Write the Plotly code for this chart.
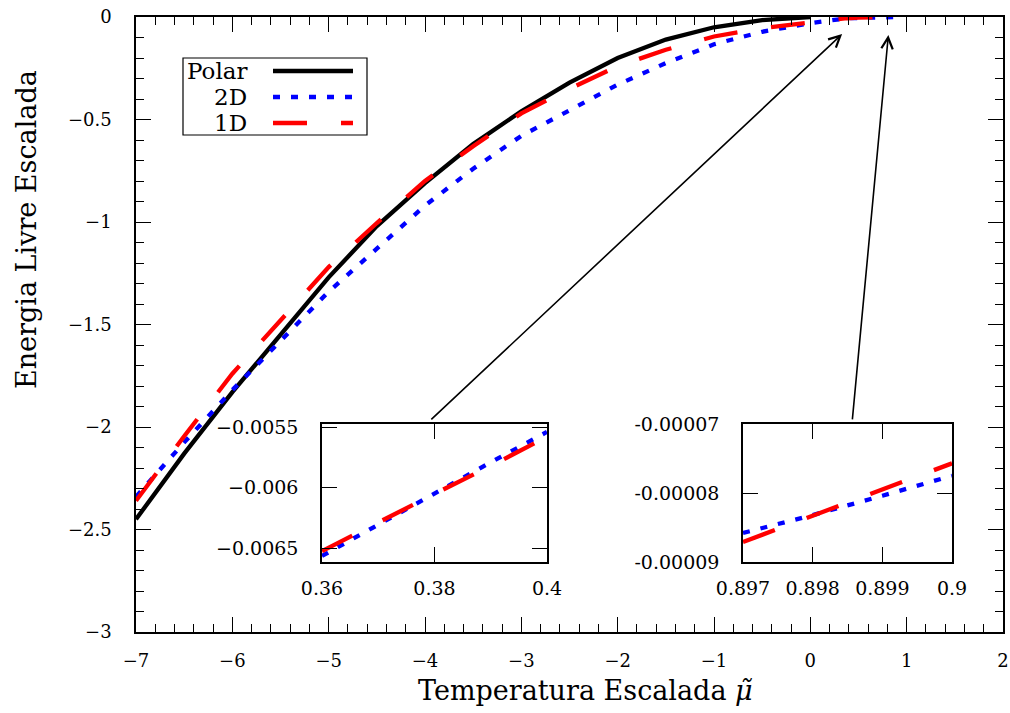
import plotly.graph_objects as go

# ---------------- data ----------------
mu_polar = [-7, -6.5, -6, -5.5, -5, -4.5, -4, -3.5, -3, -2.5, -2, -1.5, -1, -0.5, 0]
f_polar = [-2.45, -2.13, -1.83, -1.55, -1.27, -1.02, -0.81, -0.62, -0.46, -0.32, -0.20, -0.11, -0.05, -0.015, 0.0]

mu_2d = [-7, -6.5, -6, -5.5, -5, -4.5, -4, -3.5, -3, -2.5, -2, -1.5, -1, -0.5, 0, 0.38, 0.5, 0.9]
f_2d = [-2.34, -2.075, -1.82, -1.58, -1.34, -1.13, -0.92, -0.74, -0.58, -0.455, -0.33, -0.225, -0.133, -0.072,
        -0.03, -0.006, -0.0035, -0.00008]

mu_1d = [-7, -6.5, -6, -5.5, -5, -4.5, -4, -3.5, -3, -2.5, -2, -1.5, -1, -0.5, 0, 0.38, 0.5, 0.9]
f_1d = [-2.36, -2.045, -1.74, -1.48, -1.22, -1.005, -0.80, -0.63, -0.47, -0.35, -0.24, -0.16, -0.095, -0.055,
        -0.026, -0.006, -0.0035, -0.00008]

# inset 1 (zoom near mu = 0.38)
zoom1_mu = [0.36, 0.37, 0.38, 0.39, 0.40]
zoom1_2d = [-0.00656, -0.00630, -0.00605, -0.00579, -0.00554]
zoom1_1d = [-0.00652, -0.00628, -0.00605, -0.00582, -0.00558]

# inset 2 (zoom near mu = 0.9)
zoom2_mu = [0.897, 0.898, 0.899, 0.900]
zoom2_2d = [-0.0000858, -0.0000832, -0.0000804, -0.0000775]
zoom2_1d = [-0.0000871, -0.0000833, -0.0000796, -0.0000757]

x_ticks = [-7, -6, -5, -4, -3, -2, -1, 0, 1, 2]
x_ticktext = ["−7", "−6", "−5", "−4", "−3", "−2", "−1", "0", "1", "2"]
y_ticks = [-3, -2.5, -2, -1.5, -1, -0.5, 0]
y_ticktext = ["−3", "−2.5", "−2", "−1.5", "−1", "−0.5", "0"]

z1_xticks = [0.36, 0.38, 0.40]
z1_xtext = ["0.36", "0.38", "0.4"]
z1_yticks = [-0.0065, -0.006, -0.0055]
z1_ytext = ["−0.0065", "−0.006", "−0.0055"]

z2_xticks = [0.897, 0.898, 0.899, 0.900]
z2_xtext = ["0.897", "0.898", "0.899", "0.9"]
z2_yticks = [-0.00009, -0.00008, -0.00007]
z2_ytext = ["-0.00009", "-0.00008", "-0.00007"]

legend_names = ["Polar", "2D", "1D"]

# ---------------- styles ----------------
FONT = "DejaVu Serif"
BLACK = "#000000"
BLUE = "#0000ff"
RED = "#ff0000"
LW = 4.3
DOT = "7px,11px"
DASH = "34px,34px"

W, H = 1010, 713
ML, MR, MT, MB = 136, 7, 17, 81
PW, PH = W - ML - MR, H - MT - MB


def px(xp):
    return (xp - ML) / PW


def py(yp):
    return (H - MB - yp) / PH


fig = go.Figure()

# main curves
fig.add_trace(go.Scatter(x=mu_polar, y=f_polar, mode="lines", name=legend_names[0],
                         line=dict(color=BLACK, width=LW), xaxis="x", yaxis="y"))
fig.add_trace(go.Scatter(x=mu_2d, y=f_2d, mode="lines", name=legend_names[1],
                         line=dict(color=BLUE, width=LW, dash=DOT), xaxis="x", yaxis="y"))
fig.add_trace(go.Scatter(x=mu_1d, y=f_1d, mode="lines", name=legend_names[2],
                         line=dict(color=RED, width=LW, dash=DASH), xaxis="x", yaxis="y"))

# inset 1
fig.add_trace(go.Scatter(x=zoom1_mu, y=zoom1_2d, mode="lines", name="2D",
                         line=dict(color=BLUE, width=LW, dash=DOT), xaxis="x2", yaxis="y2"))
fig.add_trace(go.Scatter(x=zoom1_mu, y=zoom1_1d, mode="lines", name="1D",
                         line=dict(color=RED, width=LW, dash=DASH), xaxis="x2", yaxis="y2"))
# inset 2
fig.add_trace(go.Scatter(x=zoom2_mu, y=zoom2_2d, mode="lines", name="2D",
                         line=dict(color=BLUE, width=LW, dash=DOT), xaxis="x3", yaxis="y3"))
fig.add_trace(go.Scatter(x=zoom2_mu, y=zoom2_1d, mode="lines", name="1D",
                         line=dict(color=RED, width=LW, dash=DASH), xaxis="x3", yaxis="y3"))

axis_common = dict(showline=True, linecolor=BLACK, linewidth=1.5, mirror="ticks",
                   ticks="inside", tickcolor=BLACK, tickwidth=1.2, ticklen=15,
                   showgrid=False, zeroline=False, color=BLACK, automargin=False)

tickfont_main = dict(family=FONT, size=18, color=BLACK)
tickfont_inset = dict(family=FONT, size=19, color=BLACK)

# inset domains
i1x = [px(322), px(547)]
i2x = [px(743), px(952)]
iy = [py(562), py(424)]

fig.update_layout(
    width=W, height=H,
    margin=dict(l=ML, r=MR, t=MT, b=MB, autoexpand=False),
    paper_bgcolor="white", plot_bgcolor="white",
    showlegend=False,
    font=dict(family=FONT, color=BLACK),
    xaxis=dict(**axis_common, range=[-7, 2], domain=[0, 1], tickvals=x_ticks, ticktext=x_ticktext,
               tickfont=tickfont_main, ticklabelstandoff=12,
               minor=dict(dtick=0.2, tick0=-7, ticks="inside", ticklen=8, tickcolor=BLACK, tickwidth=1.2)),
    yaxis=dict(**axis_common, range=[-3, 0], domain=[0, 1], tickvals=y_ticks, ticktext=y_ticktext,
               tickfont=tickfont_main, ticklabelstandoff=19,
               minor=dict(dtick=0.1, tick0=0, ticks="inside", ticklen=8, tickcolor=BLACK, tickwidth=1.2)),
    xaxis2=dict(**axis_common, range=[0.36, 0.40], domain=i1x, anchor="y2", tickvals=z1_xticks,
                ticktext=z1_xtext, tickfont=tickfont_inset, ticklabelstandoff=8),
    yaxis2=dict(**axis_common, range=[-0.00661, -0.005475], domain=iy, anchor="x2", tickvals=z1_yticks,
                ticktext=z1_ytext, tickfont=tickfont_inset, ticklabelstandoff=18),
    xaxis3=dict(**axis_common, range=[0.897, 0.900], domain=i2x, anchor="y3", tickvals=z2_xticks,
                ticktext=z2_xtext, tickfont=tickfont_inset, ticklabelstandoff=8),
    yaxis3=dict(**axis_common, range=[-0.00009, -0.00007], domain=iy, anchor="x3", tickvals=z2_yticks,
                ticktext=z2_ytext, tickfont=tickfont_inset, ticklabelstandoff=18),
)

annotations = []
# axis titles
annotations.append(dict(text="Temperatura Escalada <i>μ̃</i>", xref="paper", yref="paper",
                        x=px(585), y=py(690), xanchor="center", yanchor="middle", showarrow=False,
                        font=dict(family=FONT, size=27, color=BLACK)))
annotations.append(dict(text="Energia Livre Escalada", xref="paper", yref="paper",
                        x=px(27), y=py(230), xanchor="center", yanchor="middle", textangle=-90,
                        showarrow=False, font=dict(family=FONT, size=27, color=BLACK)))
# arrows pointing from insets to the zoomed regions
annotations.append(dict(x=0.33, y=-0.083, ax=-3.95, ay=-1.97, xref="x", yref="y", axref="x", ayref="y",
                        text="", showarrow=True, arrowhead=5, arrowsize=1.4, arrowwidth=1.6,
                        arrowcolor=BLACK))
annotations.append(dict(x=0.81, y=-0.088, ax=0.435, ay=-1.97, xref="x", yref="y", axref="x", ayref="y",
                        text="", showarrow=True, arrowhead=5, arrowsize=1.4, arrowwidth=1.6,
                        arrowcolor=BLACK))

# manual legend (text to the left of the sample, gnuplot style)
shapes = [dict(type="rect", xref="paper", yref="paper", x0=px(183), x1=px(367), y0=py(135), y1=py(58),
               line=dict(color=BLACK, width=1.2), fillcolor="white", layer="above")]
rows = [71, 97, 123]
styles = [dict(color=BLACK, width=LW), dict(color=BLUE, width=LW, dash=DOT), dict(color=RED, width=LW, dash=DASH)]
for name, yrow, st in zip(legend_names, rows, styles):
    annotations.append(dict(text=name, xref="paper", yref="paper", x=px(249), y=py(yrow),
                            xanchor="right", yanchor="middle", showarrow=False,
                            font=dict(family=FONT, size=23, color=BLACK)))
    shapes.append(dict(type="line", xref="paper", yref="paper", x0=px(273), x1=px(353),
                       y0=py(yrow), y1=py(yrow), line=st, layer="above"))

fig.update_layout(annotations=annotations, shapes=shapes)

fig.write_html("out.html")
